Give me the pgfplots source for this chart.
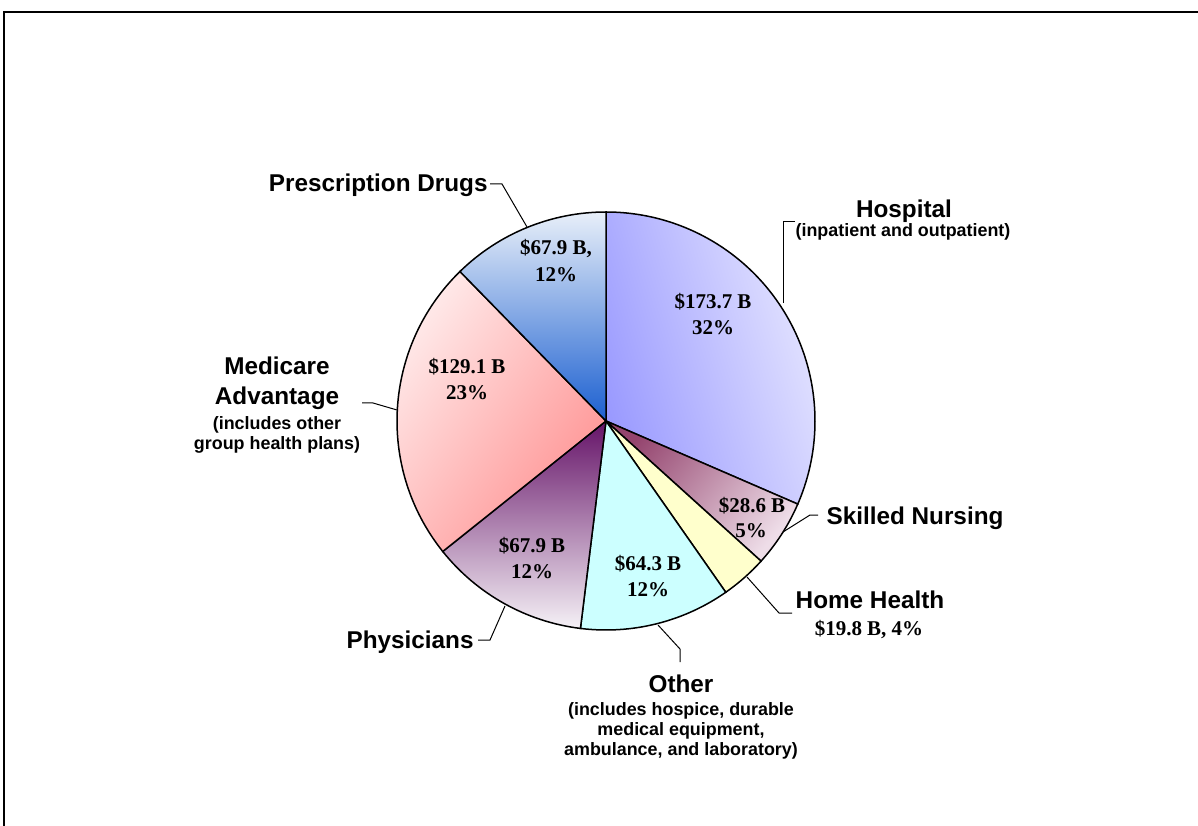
\documentclass[border=0pt]{standalone}
\usepackage{fontspec}
\setmainfont{Liberation Serif}
\newfontfamily\arial{Liberation Sans}
\usepackage{pgfplots}
\pgfplotsset{compat=1.18}
\usepackage{pgfplotstable}

\definecolor{hospDark}{HTML}{9A9AFF}
\definecolor{hospLight}{HTML}{E8E8FF}
\definecolor{snDark}{HTML}{94446E}
\definecolor{snLight}{HTML}{EEDDE8}
\definecolor{hhFill}{HTML}{FFFFCC}
\definecolor{otFill}{HTML}{CCFFFF}
\definecolor{phDark}{HTML}{651368}
\definecolor{phMid}{HTML}{C8B9C9}
\definecolor{phLight}{HTML}{F5F1F6}
\definecolor{maLight}{HTML}{FFEEEE}
\definecolor{maDark}{HTML}{FF9292}
\definecolor{rxLight}{HTML}{E8EFF9}
\definecolor{rxMid}{HTML}{B0C3EA}
\definecolor{rxDark}{HTML}{1B5FD0}

\pgfplotstableread{
name value
Hospital 173.7
SkilledNursing 28.6
HomeHealth 19.8
Other 64.3
Physicians 67.9
MedicareAdvantage 129.1
PrescriptionDrugs 67.9
}\piedata

\newcommand\catfont{\arial\bfseries\fontsize{12.15}{14}\selectfont}
\newcommand\subfont{\arial\bfseries\fontsize{8.95}{10}\selectfont}
\newcommand\valfont{\bfseries\fontsize{10.5}{13}\selectfont}

\begin{document}
\begin{tikzpicture}
\pgfplotstablegetelem{0}{value}\of\piedata \let\vA\pgfplotsretval
\pgfplotstablegetelem{1}{value}\of\piedata \let\vB\pgfplotsretval
\pgfplotstablegetelem{2}{value}\of\piedata \let\vC\pgfplotsretval
\pgfplotstablegetelem{3}{value}\of\piedata \let\vD\pgfplotsretval
\pgfplotstablegetelem{4}{value}\of\piedata \let\vE\pgfplotsretval
\pgfplotstablegetelem{5}{value}\of\piedata \let\vF\pgfplotsretval
\pgfplotstablegetelem{6}{value}\of\piedata \let\vG\pgfplotsretval
\pgfmathsetmacro\total{\vA+\vB+\vC+\vD+\vE+\vF+\vG}
\pgfmathsetmacro\aA{90}
\pgfmathsetmacro\aB{\aA-\vA/\total*360}
\pgfmathsetmacro\aC{\aB-\vB/\total*360}
\pgfmathsetmacro\aD{\aC-\vC/\total*360}
\pgfmathsetmacro\aE{\aD-\vD/\total*360}
\pgfmathsetmacro\aF{\aE-\vE/\total*360}
\pgfmathsetmacro\aG{\aF-\vF/\total*360}
\pgfmathsetmacro\aH{\aG-\vG/\total*360}
\def\R{104.5pt}
\begin{axis}[hide axis, scale only axis, x=0.5pt, y=0.5pt,
  xmin=0, xmax=1198, ymin=0, ymax=825, clip=false]
% frame
\draw[line width=1pt, line join=miter] (axis cs:3.5,-10) -- (axis cs:3.5,813) -- (axis cs:1210,813);
% wedges
\addplot[draw=black, line width=0.75pt, top color=hospDark, bottom color=hospLight, shading angle=107]
  coordinates {(606,404)} -- ++(\aA:\R) arc[start angle=\aA, end angle=\aB, radius=\R] -- cycle;
\addplot[draw=black, line width=0.75pt, top color=snDark, bottom color=snLight, shading angle=50]
  coordinates {(606,404)} -- ++(\aB:\R) arc[start angle=\aB, end angle=\aC, radius=\R] -- cycle;
\addplot[draw=black, line width=0.75pt, fill=hhFill]
  coordinates {(606,404)} -- ++(\aC:\R) arc[start angle=\aC, end angle=\aD, radius=\R] -- cycle;
\addplot[draw=black, line width=0.75pt, fill=otFill]
  coordinates {(606,404)} -- ++(\aD:\R) arc[start angle=\aD, end angle=\aE, radius=\R] -- cycle;
\addplot[draw=black, line width=0.75pt, top color=phDark, middle color=phMid, bottom color=phLight]
  coordinates {(606,404)} -- ++(\aE:\R) arc[start angle=\aE, end angle=\aF, radius=\R] -- cycle;
\addplot[draw=black, line width=0.75pt, top color=maLight, bottom color=maDark, shading angle=55]
  coordinates {(606,404)} -- ++(\aF:\R) arc[start angle=\aF, end angle=\aG, radius=\R] -- cycle;
\addplot[draw=black, line width=0.75pt, top color=rxLight, middle color=rxMid, bottom color=rxDark]
  coordinates {(606,404)} -- ++(\aG:\R) arc[start angle=\aG, end angle=\aH, radius=\R] -- cycle;
% leader lines
\begin{scope}[line width=0.5pt]
\draw (axis cs:490,641) -- (axis cs:502,641) -- (axis cs:527,598);
\draw (axis cs:795,603) -- (axis cs:783,603) -- (axis cs:783,522);
\draw (axis cs:818,310) -- (axis cs:810,310) -- (axis cs:783,293);
\draw (axis cs:792,212) -- (axis cs:779,212) -- (axis cs:747,248);
\draw (axis cs:680,163) -- (axis cs:680,176) -- (axis cs:658,200);
\draw (axis cs:478,185) -- (axis cs:490,185) -- (axis cs:505,219);
\draw (axis cs:362,422) -- (axis cs:373,422) -- (axis cs:397,415);
\end{scope}
% category labels
\begin{scope}[every node/.style={inner sep=0pt, anchor=base}]
\node[anchor=base east] at (axis cs:488,633) {\catfont Prescription Drugs};
\node at (axis cs:904,607) {\catfont Hospital};
\node at (axis cs:903,588) {\subfont (inpatient and outpatient)};
\node at (axis cs:915,300) {\catfont Skilled Nursing};
\node at (axis cs:870,217) {\catfont Home Health};
\node at (axis cs:869,190) {\valfont \$19.8 B, 4\%};
\node at (axis cs:681,133) {\catfont Other};
\node at (axis cs:681,110) {\subfont (includes hospice, durable};
\node at (axis cs:681,90) {\subfont medical equipment,};
\node at (axis cs:681,70) {\subfont ambulance, and laboratory)};
\node[anchor=base east] at (axis cs:474,177) {\catfont Physicians};
\node at (axis cs:277,450) {\catfont Medicare};
\node at (axis cs:277,420) {\catfont Advantage};
\node at (axis cs:277,395) {\subfont (includes other};
\node at (axis cs:277,375) {\subfont group health plans)};
% value labels
\node at (axis cs:713,516) {\valfont \$173.7 B};
\node at (axis cs:713,490) {\valfont 32\%};
\node at (axis cs:752,313) {\valfont \$28.6 B};
\node at (axis cs:751,288) {\valfont 5\%};
\node at (axis cs:648,255) {\valfont \$64.3 B};
\node at (axis cs:648,229) {\valfont 12\%};
\node at (axis cs:532,273) {\valfont \$67.9 B};
\node at (axis cs:532,247) {\valfont 12\%};
\node at (axis cs:467,451) {\valfont \$129.1 B};
\node at (axis cs:467,425) {\valfont 23\%};
\node at (axis cs:556,570) {\valfont \$67.9 B,};
\node at (axis cs:556,543) {\valfont 12\%};
\end{scope}
\end{axis}
\pgfresetboundingbox
\useasboundingbox (current axis.south west) rectangle (current axis.north east);
\end{tikzpicture}
\end{document}
